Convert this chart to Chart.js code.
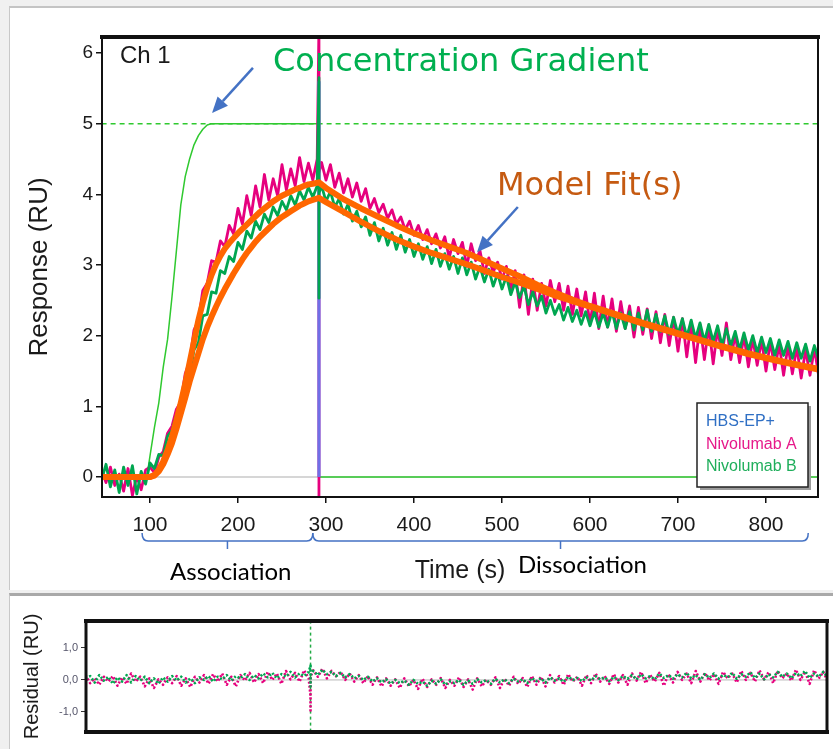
<!DOCTYPE html>
<html>
<head>
<meta charset="utf-8">
<title>Ch 1 sensorgram</title>
<script src="https://cdn.jsdelivr.net/npm/chart.js@4.4.1/dist/chart.umd.min.js"></script>
<style>
  html, body { margin: 0; padding: 0; }
  body { width: 833px; height: 749px; background: #f0f0f0; position: relative; overflow: hidden; }
  .panel { position: absolute; left: 9px; width: 840px; background: #fff; border-left: 1px solid #c8c8c8; }
  #panel1 { top: 6px; height: 582px; border-top: 2px solid #c4c4c4; }
  #panel2 { top: 593px; height: 160px; border-top: 3px solid #a9a9a9; }
  canvas { position: absolute; left: 0; }
  #sensorgram { top: 0; }
  #residuals { top: 596px; }
</style>
</head>
<body>
<div class="panel" id="panel1"></div>
<div class="panel" id="panel2"></div>
<canvas id="sensorgram" width="833" height="590"></canvas>
<canvas id="residuals" width="833" height="153"></canvas>
<script>
// sampling times of the recorded traces (s), the injection spike at 292 s has three readings
const dataTime = [
  45,50,55,60,65,70,75,80,85,90,
  95,100,105,110,115,120,125,130,135,140,
  145,150,155,160,165,170,175,180,185,190,
  195,200,205,210,215,220,225,230,235,240,
  245,250,255,260,265,270,275,280,285,290,
  292,292,292,
  295,300,305,310,315,320,325,330,335,340,
  345,350,355,360,365,370,375,380,385,390,
  395,400,405,410,415,420,425,430,435,440,
  445,450,455,460,465,470,475,480,485,490,
  495,500,505,510,515,520,525,530,535,540,
  545,550,555,560,565,570,575,580,585,590,
  595,600,605,610,615,620,625,630,635,640,
  645,650,655,660,665,670,675,680,685,690,
  695,700,705,710,715,720,725,730,735,740,
  745,750,755,760,765,770,775,780,785,790,
  795,800,805,810,815,820,825,830,835,840,
  845,850,855,860
];

// response (RU), Nivolumab A
const nivolumabA = [
  0.10,-0.08,0.14,-0.12,0.04,-0.20,0.12,-0.26,0.02,-0.18,
  0.10,0.14,0.06,0.28,0.36,0.62,0.72,0.96,1.06,1.46,
  1.64,2.08,2.22,2.64,2.74,3.06,3.04,3.34,3.26,3.56,
  3.44,3.80,3.58,3.98,3.70,4.12,3.82,4.28,3.92,4.22,
  3.98,4.42,4.06,4.36,4.12,4.52,4.18,4.44,4.20,4.50,
  6.40,-0.30,4.30,
  4.45,4.20,4.42,4.10,4.30,4.02,4.22,3.96,4.16,3.90,
  4.08,3.80,3.94,3.74,3.86,3.66,3.78,3.58,3.68,3.50,
  3.62,3.42,3.56,3.36,3.50,3.30,3.44,3.24,3.40,3.10,
  3.36,3.16,3.32,2.98,3.30,3.06,3.20,2.88,3.10,2.90,
  3.04,2.80,2.98,2.64,2.92,2.40,2.86,2.30,2.80,2.36,
  2.74,2.42,2.78,2.48,2.74,2.36,2.70,2.30,2.66,2.28,
  2.62,2.16,2.60,2.10,2.56,2.12,2.52,2.06,2.48,2.10,
  2.42,1.98,2.40,2.02,2.38,1.96,2.34,1.90,2.30,1.86,
  2.26,1.78,2.24,1.70,2.20,1.62,2.16,1.66,2.14,1.60,
  2.10,1.72,2.18,1.66,2.02,1.62,2.00,1.56,1.96,1.58,
  1.94,1.50,1.92,1.52,1.88,1.44,1.86,1.46,1.84,1.40,
  1.80,1.44,1.82,1.42
];

// response (RU), Nivolumab B
const nivolumabB = [
  -0.04,0.18,-0.14,0.10,-0.22,0.14,-0.12,0.16,-0.24,0.08,
  -0.10,0.20,0.12,0.32,0.30,0.58,0.66,0.88,0.92,1.30,
  1.42,1.80,1.90,2.28,2.30,2.62,2.60,2.92,2.88,3.12,
  3.05,3.32,3.22,3.48,3.38,3.62,3.50,3.72,3.60,3.82,
  3.70,3.90,3.78,3.98,3.85,4.05,3.92,4.10,3.96,4.12,
  5.65,2.53,4.02,
  4.12,3.90,4.04,3.82,3.94,3.72,3.86,3.62,3.76,3.54,
  3.68,3.42,3.60,3.34,3.52,3.28,3.46,3.22,3.42,3.18,
  3.36,3.12,3.30,3.08,3.26,3.02,3.22,2.98,3.16,2.94,
  3.12,2.88,3.10,2.86,3.04,2.80,2.98,2.76,2.94,2.70,
  2.88,2.66,2.84,2.58,2.76,2.54,2.70,2.44,2.62,2.42,
  2.56,2.32,2.50,2.30,2.44,2.22,2.40,2.20,2.36,2.16,
  2.34,2.14,2.34,2.12,2.32,2.12,2.34,2.10,2.32,2.10,
  2.34,2.08,2.32,2.08,2.36,2.06,2.30,2.06,2.28,2.02,
  2.26,2.02,2.24,1.98,2.22,1.96,2.18,1.92,2.16,1.92,
  2.14,1.86,2.10,1.86,2.06,1.80,2.04,1.80,2.00,1.76,
  1.98,1.76,1.96,1.72,1.94,1.72,1.92,1.68,1.90,1.68,
  1.88,1.64,1.86,1.66
];

// model fits
const fitTime = [
  45,100,105,110,115,120,125,130,135,140,145,150,155,160,165,170,175,180,185,190,
  195,200,205,210,215,220,225,230,235,240,245,250,255,260,265,270,275,280,285,292,
  300,320,340,360,380,400,420,440,460,480,500,520,540,560,580,600,
  630,660,690,720,750,780,810,840,860
];
const fitA = [
  0,0,0.03,0.10,0.22,0.38,0.57,0.80,1.05,1.32,1.62,1.92,2.22,2.47,2.68,2.86,3.01,3.13,3.23,3.31,
  3.38,3.45,3.51,3.57,3.63,3.69,3.75,3.80,3.85,3.90,3.94,3.98,4.01,4.04,4.07,4.09,4.12,4.14,4.15,4.17,
  4.09,3.93,3.80,3.68,3.56,3.45,3.35,3.26,3.17,3.06,2.95,2.84,2.72,2.61,2.51,2.42,
  2.30,2.18,2.07,1.96,1.85,1.75,1.66,1.58,1.53
];
const fitB = [
  0,0,0.02,0.08,0.18,0.32,0.48,0.68,0.90,1.12,1.35,1.55,1.75,1.95,2.12,2.27,2.41,2.54,2.66,2.77,
  2.88,2.98,3.08,3.17,3.25,3.33,3.40,3.46,3.52,3.58,3.63,3.68,3.72,3.76,3.80,3.84,3.87,3.90,3.92,3.95,
  3.89,3.75,3.61,3.48,3.36,3.26,3.17,3.09,3.01,2.92,2.83,2.75,2.66,2.57,2.49,2.41,
  2.29,2.17,2.06,1.95,1.84,1.74,1.65,1.57,1.52
];

// concentration gradient (scaled to RU axis)
const concTime = [45,95,97,100,105,110,115,120,125,130,135,140,145,150,155,160,165,170,292,292,860];
const concValue = [0,0,0.05,0.30,0.70,1.05,1.55,1.95,2.55,3.20,3.85,4.25,4.50,4.70,4.83,4.92,4.98,5.00,5.00,0,0];
const levelTime = [45, 860];
const levelValue = [5, 5];
const zeroTime = [45, 860];
const zeroValue = [0, 0];
const hbsTime = [292, 292];
const hbsValue = [0, 5.6];

// residuals (RU)
const residualA = [
  0.15,-0.10,0.05,-0.15,0.10,-0.05,0.12,-0.18,0.08,-0.12,
  0.20,-0.05,0.10,-0.20,0.05,-0.25,0.02,-0.15,0.08,-0.10,
  0.12,-0.18,0.05,-0.22,0.10,-0.08,0.15,-0.12,0.18,-0.05,
  0.20,-0.15,0.10,-0.20,0.15,-0.02,0.22,-0.08,0.18,-0.10,
  0.25,0.00,0.20,-0.12,0.28,0.02,0.22,-0.05,0.30,0.05,
  -0.50,-0.95,0.10,
  0.30,0.10,0.35,0.05,0.28,0.12,0.25,0.00,0.20,-0.05,
  0.15,-0.10,0.12,-0.15,0.08,-0.20,0.05,-0.18,0.02,-0.25,
  0.05,-0.20,0.00,-0.28,0.04,-0.22,0.02,-0.15,0.06,-0.25,
  0.00,-0.18,0.08,-0.22,0.02,-0.30,0.05,-0.20,0.00,-0.15,
  0.08,-0.25,0.04,-0.18,0.10,-0.12,0.06,-0.22,0.12,-0.15,
  0.10,-0.20,0.15,-0.08,0.12,-0.15,0.18,-0.05,0.10,-0.18,
  0.15,-0.10,0.20,-0.05,0.12,-0.12,0.18,-0.08,0.15,-0.15,
  0.20,-0.02,0.25,-0.10,0.15,-0.05,0.22,-0.18,0.18,-0.08,
  0.25,0.00,0.20,-0.10,0.28,-0.05,0.22,-0.02,0.18,-0.12,
  0.25,0.05,0.20,-0.08,0.28,0.00,0.22,-0.05,0.30,0.02,
  0.24,-0.10,0.28,0.05,0.20,-0.02,0.32,0.00,0.26,-0.12,
  0.30,0.04,0.25,-0.05
];
const residualB = [
  0.05,0.12,-0.08,0.15,-0.02,0.10,-0.12,0.08,-0.05,0.15,
  -0.08,0.12,-0.02,0.10,-0.10,0.05,-0.12,0.08,-0.05,0.12,
  -0.02,0.10,-0.08,0.05,-0.10,0.08,0.00,0.12,-0.05,0.10,
  0.02,0.15,-0.02,0.12,0.05,0.18,0.00,0.15,0.05,0.20,
  0.08,0.22,0.05,0.18,0.10,0.25,0.08,0.20,0.12,0.25,
  0.45,-0.20,0.15,
  0.28,0.15,0.32,0.18,0.25,0.12,0.22,0.08,0.18,0.05,
  0.12,0.00,0.10,-0.05,0.05,-0.08,0.02,-0.12,0.00,-0.10,
  -0.02,-0.15,0.00,-0.12,-0.05,-0.18,-0.02,-0.12,0.02,-0.15,
  -0.05,-0.10,0.00,-0.15,-0.02,-0.12,0.02,-0.08,0.00,-0.12,
  0.04,-0.08,0.02,-0.10,0.05,-0.05,0.02,-0.10,0.06,-0.04,
  0.05,-0.08,0.08,-0.02,0.05,-0.06,0.10,0.00,0.06,-0.04,
  0.08,-0.02,0.12,0.02,0.08,-0.04,0.10,0.00,0.12,0.04,
  0.15,0.02,0.18,0.05,0.12,0.02,0.20,0.06,0.15,0.04,
  0.18,0.08,0.22,0.05,0.15,0.00,0.18,0.06,0.20,0.04,
  0.16,0.08,0.22,0.04,0.18,0.10,0.24,0.06,0.20,0.02,
  0.18,0.08,0.25,0.10,0.20,0.05,0.22,0.12,0.28,0.06,
  0.20,0.10,0.25,0.08
];
const markerTime = [292, 292];
const markerValue = [-1.8, 1.9];

const xTicks = [100, 200, 300, 400, 500, 600, 700, 800];
const yTicks = [0, 1, 2, 3, 4, 5, 6];
const residualTicks = [-1, 0, 1];
const residualTickLabels = ['-1,0', '0,0', '1,0'];
const legendNames = ['HBS-EP+', 'Nivolumab A', 'Nivolumab B'];
const legendColors = ['#2f6fc4', '#e6198a', '#1fae5b'];
const phaseNames = ['Association', 'Dissociation'];
const phaseTimes = [[91, 285], [285, 848]];

const ARIAL = "'Liberation Sans', Arial, sans-serif";

function series(label, xs, ys, color, width, extra) {
  return Object.assign({
    label: label,
    data: xs.map((x, i) => ({x: x, y: ys[i]})),
    borderColor: color,
    borderWidth: width,
    pointRadius: 0,
    fill: false,
    tension: 0,
    borderJoinStyle: 'round'
  }, extra || {});
}

// frame around the plot area, top edge drawn heavier like the instrument software
const framePlugin = {
  id: 'frame',
  afterDraw(chart, args, opts) {
    const {ctx, chartArea: a} = chart;
    ctx.save();
    ctx.strokeStyle = opts.color;
    ctx.lineCap = 'square';
    const edge = (w, x1, y1, x2, y2) => {
      ctx.lineWidth = w;
      ctx.beginPath(); ctx.moveTo(x1, y1); ctx.lineTo(x2, y2); ctx.stroke();
    };
    edge(opts.top, a.left, a.top, a.right, a.top);
    edge(opts.bottom, a.left, a.bottom, a.right, a.bottom);
    edge(opts.left, a.left, a.top, a.left, a.bottom);
    edge(opts.right, a.right, a.top, a.right, a.bottom);
    ctx.restore();
  }
};

function arrow(ctx, x1, y1, x2, y2) {
  const ang = Math.atan2(y2 - y1, x2 - x1), L = 16, W = 7;
  const bx = x2 - L * Math.cos(ang), by = y2 - L * Math.sin(ang);
  ctx.beginPath(); ctx.moveTo(x1, y1); ctx.lineTo(bx, by); ctx.stroke();
  ctx.beginPath();
  ctx.moveTo(x2, y2);
  ctx.lineTo(bx + W * Math.sin(ang), by - W * Math.cos(ang));
  ctx.lineTo(bx - W * Math.sin(ang), by + W * Math.cos(ang));
  ctx.closePath(); ctx.fill();
}

function brace(ctx, xa, xb, y) {
  const xm = (xa + xb) / 2;
  ctx.beginPath();
  ctx.moveTo(xa, y - 8);
  ctx.quadraticCurveTo(xa, y, xa + 6, y);
  ctx.lineTo(xb - 6, y);
  ctx.quadraticCurveTo(xb, y, xb, y - 8);
  ctx.moveTo(xm, y);
  ctx.lineTo(xm, y + 8);
  ctx.stroke();
}

const notesPlugin = {
  id: 'notes',
  afterDraw(chart) {
    const {ctx} = chart;
    const sx = chart.scales.x, sy = chart.scales.y;
    ctx.save();

    ctx.textBaseline = 'middle';
    ctx.textAlign = 'left';
    ctx.fillStyle = '#1a1a1a';
    ctx.font = '24px ' + ARIAL;
    ctx.fillText('Ch 1', 120, 56);

    ctx.font = '32px "DejaVu Sans", Verdana, sans-serif';
    ctx.fillStyle = '#00b050';
    ctx.fillText('Concentration Gradient', 273, 63);
    ctx.fillStyle = '#c55a11';
    ctx.fillText('Model Fit(s)', 497, 187);

    // arrows
    ctx.strokeStyle = '#4472c4';
    ctx.fillStyle = '#4472c4';
    ctx.lineWidth = 2.5;
    arrow(ctx, sx.getPixelForValue(217), sy.getPixelForValue(5.79), sx.getPixelForValue(170.5), sy.getPixelForValue(5.15));
    arrow(ctx, sx.getPixelForValue(518), sy.getPixelForValue(3.82), sx.getPixelForValue(471.6), sy.getPixelForValue(3.18));

    // phase braces under the time axis
    ctx.lineWidth = 1.5;
    phaseTimes.forEach(p => brace(ctx, sx.getPixelForValue(p[0]), sx.getPixelForValue(p[1]), 541));
    ctx.fillStyle = '#000';
    ctx.font = '24px Lato, sans-serif';
    ctx.fillText(phaseNames[0], 170, 572);
    ctx.fillText(phaseNames[1], 518, 565);

    // legend box
    ctx.fillStyle = '#9c9c9c';
    ctx.fillRect(700, 406, 111, 84);
    ctx.fillStyle = '#fff';
    ctx.fillRect(697, 403, 111, 84);
    ctx.strokeStyle = '#222';
    ctx.lineWidth = 1.5;
    ctx.strokeRect(697, 403, 111, 84);
    ctx.font = '16px ' + ARIAL;
    legendNames.forEach((name, i) => {
      ctx.fillStyle = legendColors[i];
      ctx.fillText(name, 706, 422 + i * 22.5);
    });
    ctx.restore();
  }
};

new Chart(document.getElementById('sensorgram'), {
  type: 'line',
  data: {
    datasets: [
      series('Fit A', fitTime, fitA, '#ff6600', 6),
      series('Fit B', fitTime, fitB, '#ff6600', 6),
      series('Nivolumab B', dataTime, nivolumabB, '#00a650', 2.8),
      series('HBS-EP+', hbsTime, hbsValue, '#6f6fe6', 3.2),
      series('Nivolumab A', dataTime, nivolumabA, '#e6007e', 2.8),
      series('Concentration', concTime, concValue, '#2fc92f', 1.5),
      series('Level', levelTime, levelValue, '#2fc92f', 1.5, {borderDash: [5, 4]}),
      series('Baseline', zeroTime, zeroValue, '#c8c8c8', 1.5)
    ]
  },
  options: {
    responsive: false,
    animation: false,
    events: [],
    layout: { padding: { left: 24, right: 15, top: 37, bottom: 4 } },
    plugins: {
      legend: { display: false },
      tooltip: { enabled: false },
      frame: { color: '#111', top: 4, bottom: 2, left: 2, right: 2 }
    },
    scales: {
      x: {
        type: 'linear',
        min: 45.45,
        max: 859.1,
        afterBuildTicks: axis => { axis.ticks = xTicks.map(v => ({value: v})); },
        afterFit: axis => { axis.height = 89; },
        border: { display: false },
        grid: { drawOnChartArea: false, drawTicks: true, tickLength: 6, color: '#111', lineWidth: 1.5 },
        ticks: { font: { family: ARIAL, size: 21 }, color: '#1a1a1a', padding: 10, maxRotation: 0 },
        title: { display: true, text: 'Time (s)', font: { family: ARIAL, size: 25 }, color: '#1a1a1a', padding: 0 }
      },
      y: {
        type: 'linear',
        min: -0.283,
        max: 6.226,
        afterBuildTicks: axis => { axis.ticks = yTicks.map(v => ({value: v})); },
        afterFit: axis => { axis.width = 78; },
        border: { display: false },
        grid: { drawOnChartArea: false, drawTicks: true, tickLength: 6, color: '#111', lineWidth: 1.5 },
        ticks: { font: { family: ARIAL, size: 19 }, color: '#1a1a1a', padding: 3 },
        title: { display: true, text: 'Response (RU)', font: { family: ARIAL, size: 26 }, color: '#1a1a1a', padding: 0 }
      }
    }
  },
  plugins: [framePlugin, notesPlugin]
});

new Chart(document.getElementById('residuals'), {
  type: 'line',
  data: {
    datasets: [
      series('Nivolumab B', dataTime, residualB, '#00a650', 2.6, {borderDash: [2, 2]}),
      series('Nivolumab A', dataTime, residualA, '#e6007e', 2.6, {borderDash: [2, 2]}),
      series('Injection', markerTime, markerValue, '#22aa44', 1.5, {borderDash: [3, 3]}),
      series('Zero', zeroTime, zeroValue, '#b8b8b8', 1)
    ]
  },
  options: {
    responsive: false,
    animation: false,
    events: [],
    layout: { padding: { left: 20, right: 6, top: 25, bottom: 17 } },
    plugins: {
      legend: { display: false },
      tooltip: { enabled: false },
      frame: { color: '#111', top: 4, bottom: 4, left: 3, right: 3 }
    },
    scales: {
      x: { type: 'linear', min: 45.45, max: 859.1, display: false },
      y: {
        type: 'linear',
        min: -1.625,
        max: 1.84,
        afterBuildTicks: axis => { axis.ticks = residualTicks.map(v => ({value: v})); },
        afterFit: axis => { axis.width = 66; },
        border: { display: false },
        grid: { drawOnChartArea: false, drawTicks: true, tickLength: 5, color: '#333', lineWidth: 1 },
        ticks: { font: { family: ARIAL, size: 11 }, color: '#55556a', padding: 3,
                 callback: (v, i) => residualTickLabels[i] },
        title: { display: true, text: 'Residual (RU)', font: { family: ARIAL, size: 20 }, color: '#1a1a1a', padding: 0 }
      }
    }
  },
  plugins: [framePlugin]
});
</script>
</body>
</html>
